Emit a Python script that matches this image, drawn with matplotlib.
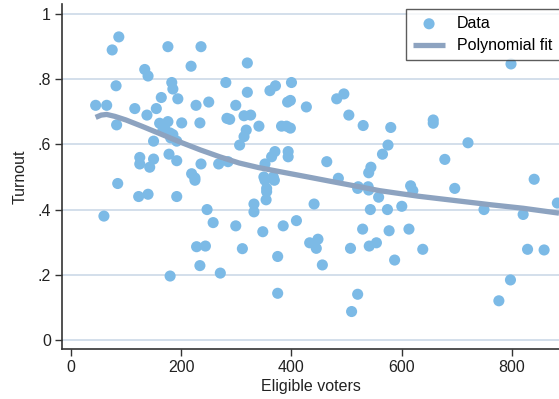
import matplotlib
matplotlib.use("Agg")
import matplotlib.pyplot as plt
from matplotlib.ticker import FixedLocator

plt.rcParams['font.family'] = ['Liberation Sans', 'DejaVu Sans']

# scatter data
voters = [45, 65, 75, 87, 82, 83, 85, 60, 116, 134, 140, 138, 125, 125, 150, 143, 150,
          164, 155, 176, 161, 183, 185, 176, 194, 201, 167, 170, 180, 185, 181, 192,
          178, 192, 218, 236, 227, 250, 234, 281, 283, 236, 268, 285, 219, 225,
          123, 140, 192, 225, 247, 258, 228, 244, 234, 180, 271,
          320, 320, 361, 371, 400, 299, 393, 398, 427, 288, 314, 326, 341, 382, 391, 398,
          318, 314, 306, 482, 495, 504, 530, 580, 575, 565, 544, 540, 370, 364, 394, 394,
          464, 485, 352, 350, 367, 355, 521, 539,
          352, 369, 355, 354, 332, 332, 441, 520, 540, 558, 543, 574, 299, 348, 385, 409,
          311, 375, 433, 448, 445, 456, 529, 507, 541, 554, 577, 587, 375, 520, 509,
          798, 657, 657, 720, 678, 840, 616, 696, 620, 882, 600, 749, 820, 613, 638,
          828, 858, 797, 776]
turnout = [.72, .72, .89, .93, .78, .66, .48, .38, .71, .83, .81, .69, .56, .54, .555, .53, .61,
           .744, .71, .67, .665, .79, .77, .90, .74, .666, .644, .65, .635, .63, .62, .61,
           .57, .55, .84, .90, .72, .73, .666, .79, .68, .54, .54, .547, .51, .497,
           .44, .447, .44, .49, .40, .36, .286, .288, .228, .196, .205,
           .85, .76, .765, .78, .79, .72, .73, .735, .715, .677, .688, .69, .656, .656, .656, .65,
           .644, .624, .598, .74, .755, .69, .658, .652, .598, .57, .53, .513, .578, .562, .578, .562,
           .547, .496, .54, .50, .50, .465, .47, .47,
           .49, .49, .455, .43, .417, .393, .417, .465, .46, .438, .40, .40, .35, .332, .35, .366,
           .28, .256, .298, .309, .281, .23, .34, .281, .288, .298, .335, .245, .143, .14, .087,
           .847, .675, .665, .605, .554, .493, .473, .465, .458, .42, .41, .40, .385, .34, .278,
           .278, .276, .184, .12]

# fitted curve
fit_x = [45, 55, 65, 80, 100, 130, 160, 200, 235, 270, 305, 340, 380, 430, 470,
         520, 560, 630, 700, 760, 820, 885]
fit_y = [.683, .690, .692, .686, .675, .655, .634, .606, .583, .562, .543, .529, .516, .500, .487,
         .471, .458, .441, .427, .415, .404, .389]

yticks = [0, .2, .4, .6, .8, 1]
ytick_labels = ['0', '.2', '.4', '.6', '.8', '1']
xticks = [0, 200, 400, 600, 800]

fig = plt.figure(figsize=(5.59, 3.99), dpi=100)
ax = fig.add_axes([62/559, 50/399, 1 - 62/559, 345/399])

for y in yticks:
    ax.axhline(y, color='#d3dfeb', lw=1.4, zorder=0)

ax.scatter(voters, turnout, s=64, color='#7cbae6', edgecolors='none', zorder=2, label='Data')
ax.plot(fit_x, fit_y, color='#8da3c0', lw=3.8, solid_capstyle='butt', zorder=3,
        label='Polynomial fit')

ax.set_xlim(-16, 885)
ax.set_ylim(-0.028, 1.031)
ax.xaxis.set_major_locator(FixedLocator(xticks))
ax.set_yticks(yticks)
ax.set_yticklabels(ytick_labels)

for side in ['top', 'right']:
    ax.spines[side].set_visible(False)
for side in ['left', 'bottom']:
    ax.spines[side].set_color('#333333')
    ax.spines[side].set_linewidth(1.2)
ax.tick_params(direction='out', length=5, width=1, color='#333333', labelsize=11.5,
               labelcolor='#222222', pad=3)

ax.set_xlabel('Eligible voters', fontsize=11.5, color='#222222', labelpad=3)
ax.set_ylabel('Turnout', fontsize=11.5, color='#222222', labelpad=7)

leg = ax.legend(loc='upper right', bbox_to_anchor=(1.001, 0.978), bbox_transform=fig.transFigure,
                fontsize=11.5, frameon=True, fancybox=False, handlelength=2.0,
                borderpad=0.45, labelspacing=0.45, handletextpad=0.75, borderaxespad=0)
leg.get_frame().set_edgecolor('#333333')
leg.get_frame().set_linewidth(1.0)

fig.savefig('out.png', dpi=100)
